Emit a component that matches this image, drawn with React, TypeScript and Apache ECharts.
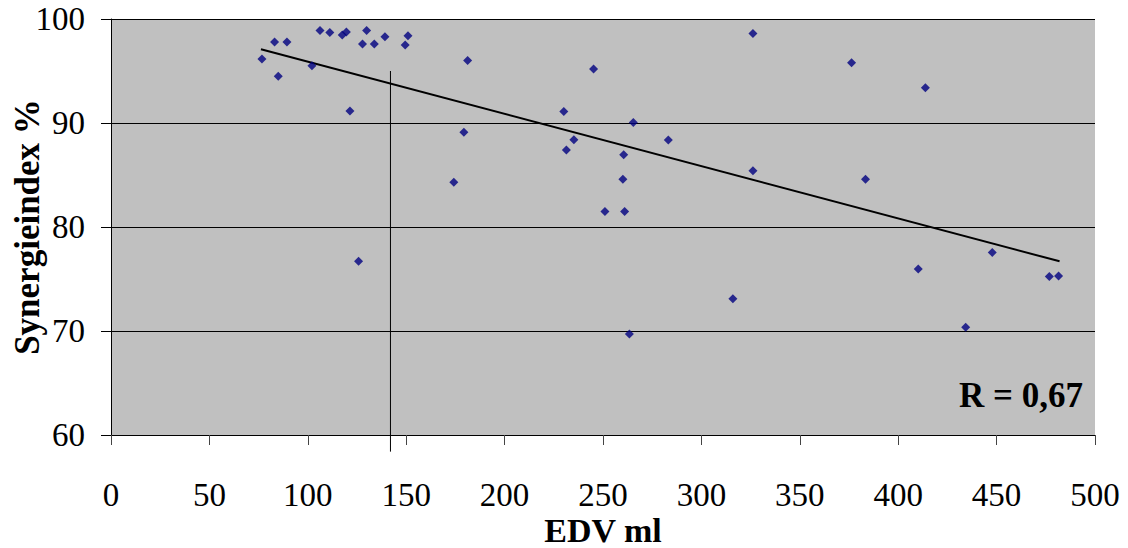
import React, { useEffect, useRef } from "react";
import * as echarts from "echarts";

const edvValues = [
  76.7, 83.1, 89.4, 85.0, 102.1, 106.2, 111.2, 117.5, 119.6, 129.9, 127.8, 133.8, 139.2, 150.9, 149.5,
  181.2, 121.4, 179.3, 174.2, 125.8, 245.2, 230.1, 265.4, 235.2, 283.2, 231.4, 260.5, 260.1, 251.0,
  261.0, 263.4, 326.2, 376.3, 413.8, 326.2, 383.4, 316.0, 410.2, 447.8, 434.3, 476.8, 481.5,
];
const synergieValues = [
  96.15, 97.8, 97.8, 94.5, 95.5, 98.9, 98.7, 98.46, 98.75, 98.9, 97.6, 97.6, 98.3, 98.4, 97.5,
  96.0, 91.15, 89.1, 84.3, 76.7, 95.2, 91.1, 90.06, 88.4, 88.37, 87.4, 86.95, 84.6, 81.5,
  81.5, 69.7, 98.6, 95.8, 93.4, 85.4, 84.6, 73.1, 75.96, 77.56, 70.35, 75.25, 75.3,
];
const trendX = [76.2, 482];
const trendY = [97.1, 76.7];
const markerX = [142, 142];
const markerY = [95, 58.4];
const xTicks = [0, 50, 100, 150, 200, 250, 300, 350, 400, 450, 500];
const yTicks = [60, 70, 80, 90, 100];
const rLabel = "R = 0,67";

const FONT = "'Liberation Serif', 'Times New Roman', serif";

export default function App() {
  const ref = useRef<HTMLDivElement>(null);
  useEffect(() => {
    if (!ref.current) return;
    const chart = echarts.init(ref.current, undefined, { renderer: "svg" });
    const points = edvValues.map((x, i) => [x, synergieValues[i]]);
    chart.setOption({
      animation: false,
      backgroundColor: "#ffffff",
      textStyle: { fontFamily: FONT },
      grid: {
        left: 111,
        right: 33,
        top: 19,
        bottom: 113,
        show: true,
        backgroundColor: "#C0C0C0",
        borderWidth: 0,
        containLabel: false,
        outerBoundsMode: "none",
      },
      xAxis: {
        type: "value",
        min: xTicks[0],
        max: xTicks[xTicks.length - 1],
        interval: 50,
        name: "EDV ml",
        nameLocation: "middle",
        nameGap: 78,
        nameMoveOverlap: false,
        nameTextStyle: { fontFamily: FONT, fontSize: 34, fontWeight: "bold", color: "#000" },
        axisLine: { show: true, onZero: false, lineStyle: { color: "#000", width: 1 } },
        axisTick: { show: true, inside: false, length: 10, lineStyle: { color: "#444", width: 1 } },
        axisLabel: { fontFamily: FONT, fontSize: 33, color: "#000", margin: 43 },
        splitLine: { show: false },
      },
      yAxis: {
        type: "value",
        min: yTicks[0],
        max: yTicks[yTicks.length - 1],
        interval: 10,
        name: "Synergieindex %",
        nameLocation: "middle",
        nameGap: 66,
        nameMoveOverlap: false,
        nameTextStyle: { fontFamily: FONT, fontSize: 35, fontWeight: "bold", color: "#000" },
        axisLine: { show: true, lineStyle: { color: "#000", width: 1 } },
        axisTick: { show: true, inside: false, length: 10, lineStyle: { color: "#000", width: 1 } },
        axisLabel: { fontFamily: FONT, fontSize: 33, color: "#000", margin: 26, padding: [8, 0, 0, 0] },
        splitLine: { show: true, lineStyle: { color: "#000", width: 1 } },
      },
      graphic: [
        {
          type: "text",
          right: 45,
          top: 378,
          style: {
            text: rLabel,
            fontFamily: FONT,
            fontSize: 35,
            fontWeight: "bold",
            fill: "#000",
          },
        },
      ],
      series: [
        {
          type: "line",
          data: markerX.map((x, i) => [x, markerY[i]]),
          showSymbol: false,
          symbol: "none",
          clip: false,
          lineStyle: { color: "#000", width: 1 },
          z: 3,
        },
        {
          type: "line",
          data: trendX.map((x, i) => [x, trendY[i]]),
          showSymbol: false,
          symbol: "none",
          lineStyle: { color: "#000", width: 2 },
          z: 4,
        },
        {
          type: "scatter",
          data: points,
          symbol: "diamond",
          symbolSize: 9,
          itemStyle: { color: "#000080" },
          z: 5,
        },
      ],
    });
    return () => chart.dispose();
  }, []);
  return (
    <div
      ref={ref}
      style={{ position: "fixed", left: 0, top: 0, width: 1128, height: 548 }}
    />
  );
}
